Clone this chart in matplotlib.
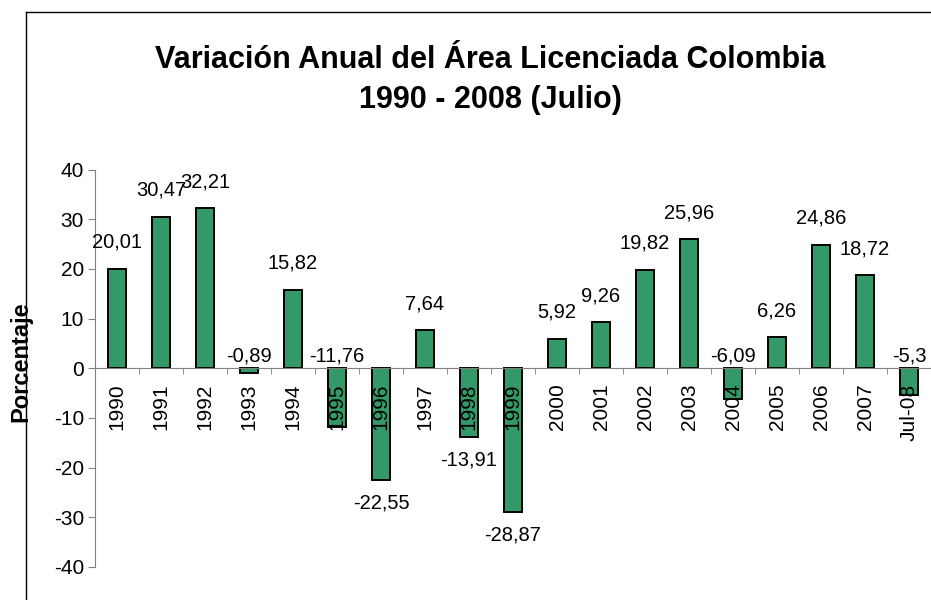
import matplotlib
matplotlib.use("Agg")
import matplotlib.pyplot as plt
from matplotlib.lines import Line2D
from matplotlib.ticker import FixedLocator, MultipleLocator

plt.rcParams["font.family"] = ["Liberation Sans", "DejaVu Sans"]
plt.rcParams["axes.unicode_minus"] = False

# data
years = ["1990", "1991", "1992", "1993", "1994", "1995", "1996", "1997", "1998",
         "1999", "2000", "2001", "2002", "2003", "2004", "2005", "2006", "2007",
         "Jul-08"]
variation = [20.01, 30.47, 32.21, -0.89, 15.82, -11.76, -22.55, 7.64, -13.91,
             -28.87, 5.92, 9.26, 19.82, 25.96, -6.09, 6.26, 24.86, 18.72, -5.3]
value_text = ["20,01", "30,47", "32,21", "-0,89", "15,82", "-11,76", "-22,55",
              "7,64", "-13,91", "-28,87", "5,92", "9,26", "19,82", "25,96",
              "-6,09", "6,26", "24,86", "18,72", "-5,3"]
# where the label of a negative bar sits: above the zero line or below the bar
label_at_zero = [False, False, False, True, False, True, False, False, False,
                 False, False, False, False, False, True, False, False, False,
                 True]

W, H, DPI = 931, 600, 100
fig = plt.figure(figsize=(W / DPI, H / DPI), dpi=DPI)

# chart-area border (left and top edges visible)
fig.add_artist(Line2D([26 / W, 26 / W], [0, 1 - 12 / H], color="black", lw=1.0))
fig.add_artist(Line2D([26 / W, 1], [1 - 12 / H, 1 - 12 / H], color="black", lw=1.0))

ax = fig.add_axes([95 / W, 1 - 567 / H, 836 / W, (567 - 169.5) / H])
x = list(range(len(years)))
ax.bar(x, variation, width=0.43, color="#339966", edgecolor="black", linewidth=1.4,
       zorder=1)

for xi, v, txt, at_zero in zip(x, variation, value_text, label_at_zero):
    if v >= 0:
        ax.annotate(txt, (xi, v), xytext=(0, 19), textcoords="offset points",
                    ha="center", va="center", fontsize=14.5)
    elif at_zero:
        ax.annotate(txt, (xi, 0), xytext=(0, 8.5), textcoords="offset points",
                    ha="center", va="center", fontsize=14.5)
    else:
        ax.annotate(txt, (xi, v), xytext=(0, -16.5), textcoords="offset points",
                    ha="center", va="center", fontsize=14.5)

ax.set_xlim(-0.5, len(years) - 0.5)
ax.set_ylim(-40, 40)
ax.yaxis.set_major_locator(MultipleLocator(10))

for side in ("top", "right"):
    ax.spines[side].set_visible(False)
ax.spines["bottom"].set_position(("data", 0))
ax.spines["bottom"].set_color("#808080")
ax.spines["left"].set_color("#808080")

ax.set_xticks(x)
ax.set_xticklabels(years, rotation=90)
ax.xaxis.set_minor_locator(FixedLocator([i + 0.5 for i in x]))
ax.tick_params(axis="x", which="major", length=0, pad=11, labelsize=15)
ax.tick_params(axis="x", which="minor", length=4, direction="out", color="#808080")
ax.tick_params(axis="y", length=5, direction="out", color="#808080", labelsize=15,
               pad=3)

fig.text(20.5 / W, 1 - 361.5 / H, "Porcentaje", rotation=90, ha="center",
         va="center", fontsize=17, fontweight="bold")
fig.text(490 / W, 1 - 60 / H, "Variación Anual del Área Licenciada Colombia",
         ha="center", va="center", fontsize=22, fontweight="bold")
fig.text(490 / W, 1 - 100 / H, "1990 - 2008 (Julio)",
         ha="center", va="center", fontsize=22, fontweight="bold")

fig.savefig("out.png", dpi=DPI)
